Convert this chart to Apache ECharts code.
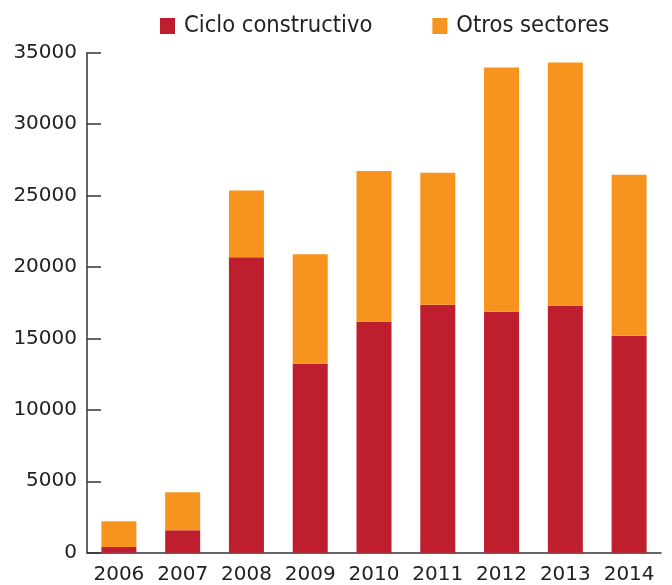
<!DOCTYPE html>
<html>
<head>
<meta charset="utf-8">
<script src="https://cdn.jsdelivr.net/npm/echarts@6/dist/echarts.min.js"></script>
<style>
html,body{margin:0;padding:0;background:#fff;}
#chart{width:672px;height:585px;}
</style>
</head>
<body>
<div id="chart"></div>
<script>
const years = ['2006','2007','2008','2009','2010','2011','2012','2013','2014'];
const cicloConstructivo = [400, 1580, 20680, 13220, 16170, 17360, 16870, 17290, 15190];
const otrosSectores = [1810, 2650, 4670, 7670, 10550, 9240, 17100, 17030, 11260];
const yTicks = [0, 5000, 10000, 15000, 20000, 25000, 30000, 35000];

const AXIS_FONT = '"DejaVu Sans", "Noto Sans", sans-serif';
const LEGEND_FONT = '"DejaVu Sans Condensed", "DejaVu Sans", sans-serif';
const chart = echarts.init(document.getElementById('chart'), null, {renderer: 'canvas'});
chart.setOption({
  animation: false,
  backgroundColor: '#fff',
  legend: {
    top: 9,
    left: 155,
    itemWidth: 15,
    itemHeight: 16,
    itemGap: 60,
    icon: 'rect',
    textStyle: {fontFamily: LEGEND_FONT, fontSize: 23.5, color: '#222', padding: [0,0,0,4]},
    data: ['Ciclo constructivo', 'Otros sectores']
  },
  grid: {left: 87, right: 11, top: 52.7, bottom: 32.3, containLabel: false},
  xAxis: {
    type: 'category',
    data: years,
    boundaryGap: true,
    axisLine: {lineStyle: {color: '#333', width: 1.5}},
    axisTick: {inside: true, length: 12, interval: 0, lineStyle: {color: '#333', width: 1.5}},
    axisLabel: {fontFamily: AXIS_FONT, fontSize: 20, color: '#222', margin: 12, interval: 0, hideOverlap: false}
  },
  yAxis: {
    type: 'value',
    min: yTicks[0],
    max: yTicks[yTicks.length - 1],
    interval: yTicks[1] - yTicks[0],
    splitLine: {show: false},
    axisLine: {show: true, lineStyle: {color: '#333', width: 1.5}},
    axisTick: {show: true, inside: true, length: 14, lineStyle: {color: '#333', width: 1.5}},
    axisLabel: {fontFamily: AXIS_FONT, fontSize: 20, color: '#222', margin: 10, formatter: v => String(v)}
  },
  series: [
    {name: 'Ciclo constructivo', type: 'bar', stack: 'total', barWidth: 35, data: cicloConstructivo, itemStyle: {color: '#be1e2d'}},
    {name: 'Otros sectores', type: 'bar', stack: 'total', barWidth: 35, data: otrosSectores, itemStyle: {color: '#f7941d'}}
  ]
});
</script>
</body>
</html>
